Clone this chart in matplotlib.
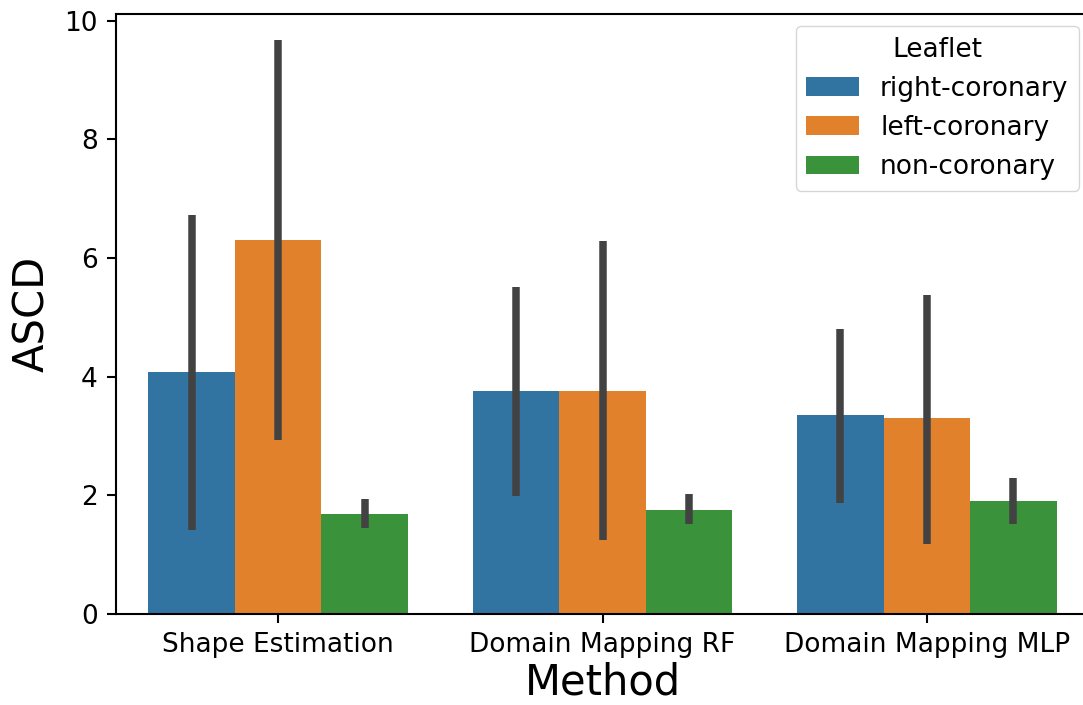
import matplotlib
matplotlib.use("Agg")
import matplotlib.pyplot as plt
import numpy as np

methods = ["Shape Estimation", "Domain Mapping RF", "Domain Mapping MLP"]
leaflets = ["right-coronary", "left-coronary", "non-coronary"]
colors = ["#3274a1", "#e1812c", "#3a923a"]

# mean ASCD per method (rows) and leaflet (columns)
means = [
    [4.08, 6.30, 1.69],
    [3.76, 3.76, 1.76],
    [3.35, 3.30, 1.91],
]
# confidence interval bounds
ci_low = [
    [1.41, 2.93, 1.45],
    [1.98, 1.24, 1.51],
    [1.87, 1.18, 1.52],
]
ci_high = [
    [6.72, 9.67, 1.94],
    [5.51, 6.28, 2.02],
    [4.80, 5.37, 2.29],
]

fig = plt.figure(figsize=(10.83, 7.05), dpi=100)
ax = fig.add_axes([116 / 1083, 91 / 705, 973 / 1083, 600 / 705])

n = len(leaflets)
group_w = 0.8
bar_w = group_w / n
x = np.arange(len(methods))
for j, (leaf, col) in enumerate(zip(leaflets, colors)):
    offs = x - group_w / 2 + bar_w * (j + 0.5)
    vals = [m[j] for m in means]
    ax.bar(offs, vals, width=bar_w, color=col, label=leaf, linewidth=0)
    for xi, lo, hi in zip(offs, [c[j] for c in ci_low], [c[j] for c in ci_high]):
        ax.plot([xi, xi], [lo, hi], color="#424242", linewidth=5.4,
                solid_capstyle="butt", zorder=3)

ax.set_xlim(-0.5, len(methods) - 0.5)
ax.set_ylim(0, 10.11)
ax.set_xticks(x)
ax.set_xticklabels(methods)
ax.set_yticks([0, 2, 4, 6, 8, 10])
ax.tick_params(labelsize=19, width=1.5, length=6.3, pad=7)
for s in ax.spines.values():
    s.set_linewidth(1.5)
ax.spines["right"].set_visible(False)
ax.set_xlabel("Method", fontsize=30, labelpad=2)
ax.set_ylabel("ASCD", fontsize=30, labelpad=8)

ax.legend(title="Leaflet", fontsize=19, title_fontsize=19,
          loc="upper right", bbox_to_anchor=(1079 / 1083, 679 / 705),
          bbox_transform=fig.transFigure, borderaxespad=0)

fig.savefig("out.png", dpi=100)
